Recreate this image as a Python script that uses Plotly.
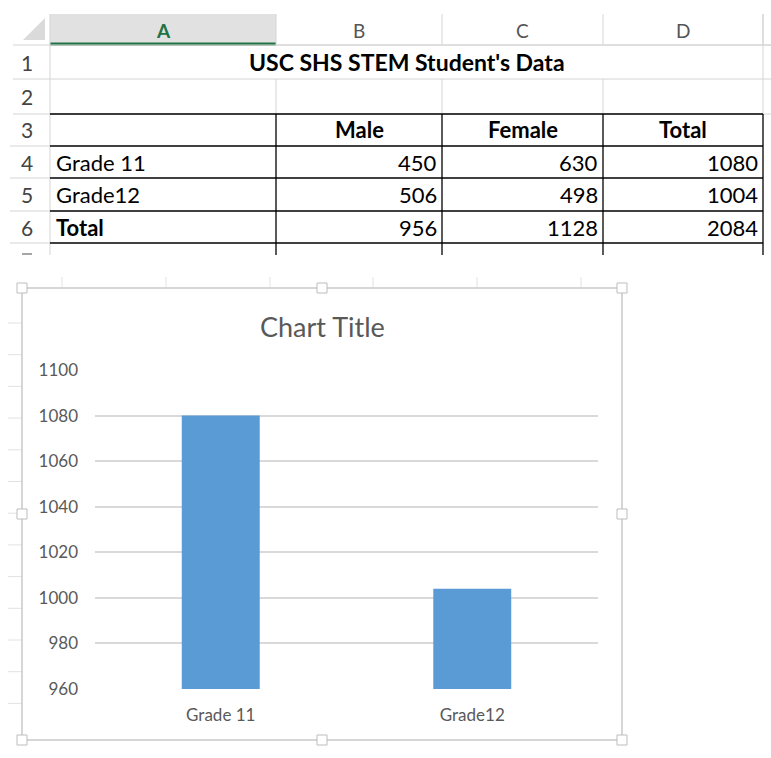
import plotly.graph_objects as go

# spreadsheet contents
sheet_title = "USC SHS STEM Student's Data"
col_letters = ["A", "B", "C", "D"]
row_numbers = ["1", "2", "3", "4", "5", "6"]
header_labels = ["Male", "Female", "Total"]
row_labels = ["Grade 11", "Grade12", "Total"]
male = [450, 506, 956]
female = [630, 498, 1128]
total = [1080, 1004, 2084]

# chart contents
chart_title = "Chart Title"
categories = ["Grade 11", "Grade12"]
values = [1080, 1004]
y_ticks = [960, 980, 1000, 1020, 1040, 1060, 1080, 1100]

W, H = 771, 758
FONT = "Lato"


def px(x):
    return x / W


def py(y):
    return 1 - y / H


col_edges = [50, 276, 442, 603, 763]
row_edges = [45, 79, 114, 146, 178, 211, 243, 255]
GRID = "#D4D4D4"

shapes = []
annotations = []


def line(x0, y0, x1, y1, color, width=1):
    shapes.append(dict(type="line", xref="paper", yref="paper",
                       x0=px(x0), y0=py(y0), x1=px(x1), y1=py(y1),
                       line=dict(color=color, width=width), layer="below"))


def rect(x0, y0, x1, y1, fill, color=None, width=0):
    shapes.append(dict(type="rect", xref="paper", yref="paper",
                       x0=px(x0), y0=py(y0), x1=px(x1), y1=py(y1),
                       fillcolor=fill, line=dict(color=color or fill, width=width),
                       layer="below"))


def text(x, y, s, size=22, color="#000000", anchor="center", bold=False):
    if bold:
        s = "<b>" + s + "</b>"
    annotations.append(dict(x=px(x), y=py(y), xref="paper", yref="paper",
                            text=s, showarrow=False, xanchor=anchor, yanchor="middle",
                            font=dict(family=FONT, size=size, color=color)))


# header row
rect(col_edges[0], 14, col_edges[1], 45, "#E1E1E1")
line(col_edges[0], 44, col_edges[1], 44, "#217346", 3)
shapes.append(dict(type="path", xref="paper", yref="paper",
                   path=f"M {px(45)},{py(18)} L {px(45)},{py(40)} L {px(23)},{py(40)} Z",
                   fillcolor="#DADADA", line=dict(width=0), layer="below"))
for x in col_edges:
    line(x, 14, x, 45, GRID)
line(col_edges[1], 45, W, 45, GRID)
for i, letter in enumerate(col_letters):
    cx = (col_edges[i] + col_edges[i + 1]) / 2
    if i == 0:
        text(cx, 31, letter, 19, "#217346", bold=True)
    else:
        text(cx, 31, letter, 19, "#555555")

# row header and light gridlines
line(col_edges[0], 45, col_edges[0], 255, GRID)
for y in row_edges[:3]:
    line(13, y, W, y, GRID)
for y in row_edges[3:7]:
    line(10, y, col_edges[0], y, GRID)
for x in col_edges[1:]:
    line(x, 79, x, 114, GRID)
line(col_edges[-1], 14, col_edges[-1], 79, GRID)
for i, num in enumerate(row_numbers):
    cy = (row_edges[i] + row_edges[i + 1]) / 2
    text(27, cy, num, 21, "#444444")
# top stroke of the cut-off row 7 number
line(22, 254, 32, 254, "#888888", 1.5)

# table borders
for y in row_edges[2:7]:
    line(col_edges[0], y, col_edges[-1], y, "#000000", 1.3)
for x in col_edges[1:]:
    line(x, 114, x, 255, "#000000", 1.3)

# cell text
text((col_edges[0] + col_edges[-1]) / 2, (row_edges[0] + row_edges[1]) / 2, sheet_title, 23, bold=True)
row3 = (row_edges[2] + row_edges[3]) / 2
for i, lab in enumerate(header_labels):
    text((col_edges[i + 1] + col_edges[i + 2]) / 2, row3, lab, 22, bold=True)
for r, lab in enumerate(row_labels):
    cy = (row_edges[3 + r] + row_edges[4 + r]) / 2
    text(col_edges[0] + 4, cy, lab, 22, anchor="left", bold=(lab == "Total"))
    for c, col in enumerate([male, female, total]):
        text(col_edges[c + 2] - 3, cy, str(col[r]), 22, anchor="right")

# faint sheet lines behind the chart
for x in [62, 166, 270, 373, 477, 581]:
    line(x, 277, x, 288, "#E2E2E2")
for k in range(13):
    y = 323 + k * 31.7
    line(8, y, 22, y, "#E2E2E2")

# chart box with selection handles
rect(22, 288, 622, 740, "#FFFFFF", "#C9C9C9", 1.5)
for hx in [22, 322, 622]:
    for hy in [288, 514, 740]:
        if hx == 322 and hy == 514:
            continue
        shapes.append(dict(type="rect", xref="paper", yref="paper",
                           x0=px(hx - 5), y0=py(hy - 5), x1=px(hx + 5), y1=py(hy + 5),
                           fillcolor="#FFFFFF", line=dict(color="#BDBDBD", width=1),
                           layer="below"))
text(322, 327, chart_title, 27, "#595959")

fig = go.Figure()
fig.add_trace(go.Bar(x=categories, y=values, marker=dict(color="#5B9BD5", line=dict(width=0)),
                     hoverinfo="x+y"))

fig.update_layout(
    width=W, height=H,
    margin=dict(l=0, r=0, t=0, b=0, pad=0, autoexpand=False),
    paper_bgcolor="#FFFFFF",
    plot_bgcolor="rgba(0,0,0,0)",
    showlegend=False,
    bargap=0.69,
    shapes=shapes,
    annotations=annotations,
    font=dict(family=FONT, color="#595959"),
    xaxis=dict(domain=[px(95), px(598)], showgrid=False, zeroline=False, showline=False,
               ticks="", tickfont=dict(size=17, color="#595959"), ticklabelstandoff=14,
               automargin=False, fixedrange=True),
    yaxis=dict(domain=[py(689), py(370)], range=[960, 1100], tickvals=y_ticks,
               showgrid=True, gridcolor="#D9D9D9", gridwidth=2, zeroline=False,
               showline=False, ticks="", tickfont=dict(size=17, color="#595959"),
               ticklabelstandoff=16, automargin=False, fixedrange=True),
)

pin_page = ("var d=document.getElementById('{plot_id}');"
            "d.style.position='fixed';d.style.top='0';d.style.left='0';"
            "document.body.style.margin='0';document.body.style.overflow='hidden';")
fig.write_html("out.html", config={"displayModeBar": False}, post_script=pin_page)
